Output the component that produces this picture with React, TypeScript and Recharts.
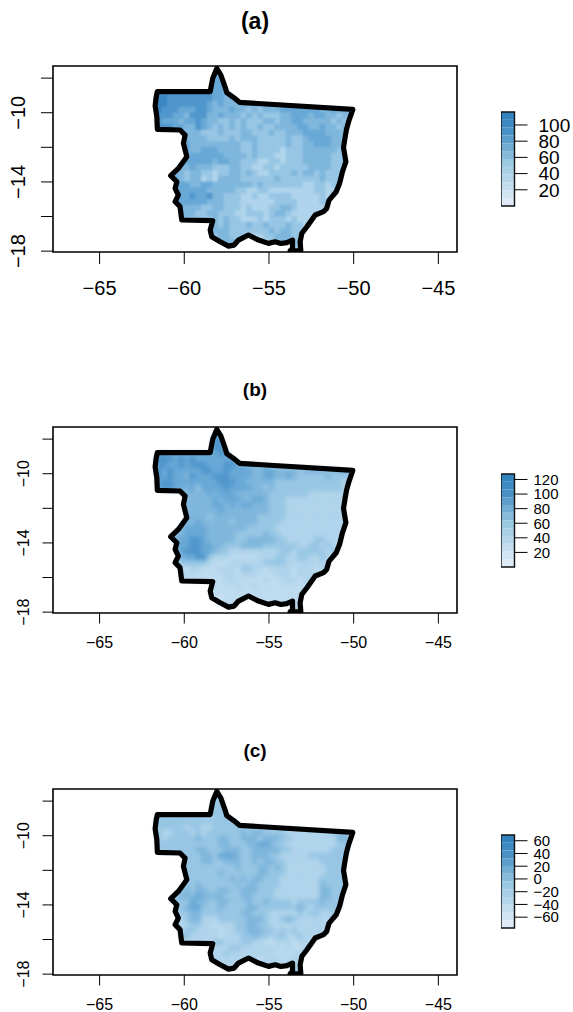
import React from "react";
import { ScatterChart, Scatter, XAxis, YAxis, ReferenceArea } from "recharts";

const FONT = "'Liberation Sans', Arial, sans-serif";
const LON_TICKS = [-65, -60, -55, -50, -45];
const LAT_TICKS = [-8, -10, -12, -14, -16, -18];
const LAT_LABELLED = [-10, -14, -18];

const BORDER_LON = [-58.08,-57.84,-57.63,-57.49,-57.10,-56.74,-50.05,-50.30,-50.42,-50.50,-50.60,-50.46,-50.66,-50.83,-51.03,-51.45,-51.60,-51.78,-52.27,-52.76,-53.06,-53.16,-53.12,-53.75,-53.61,-53.61,-53.95,-54.30,-54.63,-55.03,-55.62,-56.21,-56.80,-57.06,-57.39,-57.88,-58.38,-58.47,-58.32,-60.15,-60.25,-60.54,-60.35,-60.54,-60.44,-60.80,-60.35,-59.85,-60.05,-59.95,-60.25,-61.59,-61.62,-61.72,-61.66,-61.59,-58.47,-58.32,-58.08];
const BORDER_LAT = [-7.44,-7.82,-8.40,-8.84,-9.11,-9.40,-9.81,-10.52,-10.95,-11.39,-12.00,-12.83,-13.41,-14.08,-14.57,-15.05,-15.55,-15.72,-15.91,-16.59,-16.97,-17.46,-17.98,-17.98,-17.84,-17.36,-17.51,-17.56,-17.46,-17.55,-17.36,-17.07,-17.36,-17.65,-17.71,-17.46,-17.17,-16.78,-16.24,-16.20,-15.43,-15.14,-14.76,-14.37,-13.99,-13.64,-13.22,-12.54,-11.77,-11.29,-11.00,-10.96,-10.23,-9.60,-9.10,-8.78,-8.78,-8.01,-7.44];

// Grid of colour classes (1 light .. 9 dark), 1/3 degree cells; each row begins at ROW_STARTS[r].
const ROW_STARTS = [11,10,10,10,0,0,0,0,0,0,0,5,5,5,5,5,4,3,3,3,3,3,3,3,4,4,4,10,10,10,12,25];

const ROWS_A = [
"7","677","677","6776",
"888888888887766",
"9998888888877667",
"899888888876766666667",
"898887778876667665656667777777667766",
"888877688866766656565556677767766565",
"887776778766556565556656677666665655",
"888877668765656565565566667766766565",
"666655565556655565566677776665",
"666665555656665555565567777665",
"776666666665565555565566777665",
"776677766665565555455566666655",
"767777776666565554455566666555",
"7777777677665554455455566666555",
"76667666555665544554555556666555",
"7665665545566565445555656656555",
"7765664546666555555655555556555",
"6877667766666665655555554455455",
"7777777666665544554444444455445",
"667787786655544544555544444544",
"66777776665554444445555444455",
"666665566555454445566544444",
"566655665554455545665444444",
"56655556565544454555454444",
"5656555655655565544",
"566655555556566555",
"556655554455666555",
"66655544455655",
"55",
];

const ROWS_B = [
"8","788","788","7887",
"888777777777888",
"8888787877777777",
"888778788877788776666",
"787877777887787777667766665666656665",
"887877687778887777667766765555565555",
"878877777777888776666655555555555544",
"888877675777787777665655555555555544",
"566667677766666655555554444444",
"566666767776677655544444444444",
"566666776767766655544444444444",
"666666676666666655544444444444",
"666665666666665555544444444444",
"6666766666566665555444444444444",
"66677776666666555554444444444444",
"6667777666665555565544444444444",
"6677887666665566666554444455444",
"6677887766555666655555544554544",
"7778887765544444444455455555455",
"456778854443333344455445544544",
"34555554333444444555544444444",
"333443334443554434444344434",
"353433333443444333444344434",
"33333333344333334334443443",
"3333343343333333333",
"333333333333333333",
"332333333333333333",
"33333333333333",
"44",
];

const ROWS_C = [
"5","555","555","5555",
"555555555445555",
"5555555555555555",
"555555455445555555555",
"554455545455555565665555444444445554",
"554555556555665566656665544444444665",
"555555555555665556677655444444444555",
"555555556655566655666665544444445555",
"555566577765566655444445555555",
"555566556665565665544444455555",
"555555555565556656544444445555",
"555555565555556655544444445555",
"555555555656566555444444455555",
"5555655555565665555444444465555",
"55565665566556665554444444466555",
"5566676666555665555444444446655",
"5555766556655565565555455556555",
"4556775556555566555555565455555",
"4455665555555665554444454554455",
"444566444555556665445654444444",
"44445544344455665544444444444",
"445544443445566655454544444",
"565444443444556554554454444",
"44444435544455443344434444",
"4444554444444343344",
"444544444444343444",
"344444444344434444",
"44444444444444",
"55",
];

const CLASS_COLORS = ["#DEEBF7","#CEE3F3","#BEDBEF","#B0D4EB","#97C6E4","#7FB6DC","#68A8D6","#4F96CC","#3B87C3"];
const BIN_COLORS = ["#DEEBF7","#D0E4F3","#C3DDEE","#B5D6EA","#A8CFE5","#9ACAE1","#86BADA","#72ACD3","#5E9ECC","#4A91C5","#3D89C1","#3182BD"];

const LEGEND_A = { domain: [0, 116], ticks: [20, 40, 60, 80, 100] };
const LEGEND_B = { domain: [0, 127.5], ticks: [20, 40, 60, 80, 100, 120] };
const LEGEND_C = { domain: [-77, 69], ticks: [-60, -40, -20, 0, 20, 40, 60] };

const border = BORDER_LON.map((lon, i) => ({ lon, lat: BORDER_LAT[i] }));
const minus = (v: number) => String(v).replace("-", "\u2212");

function cells(rows: string[]) {
  const out: { lon: number; lat: number; level: number }[] = [];
  rows.forEach((row, r) => {
    for (let i = 0; i < row.length; i++) {
      out.push({
        lon: -61.83 + (ROW_STARTS[r] + i) / 3,
        lat: -7.5 - r / 3,
        level: Number(row[i]),
      });
    }
  });
  return out;
}

function Panel({ id, rows, title, top, fs, tickLen, xLabelMargin, yLabelX, baseColor, blur }: any) {
  const data = cells(rows);
  const fillLine = (p: any) => {
    const pts = (p.points || []).map((q: any) => `${q.x},${q.y}`).join(" ");
    return (
      <g>
        <clipPath id={id}><polygon points={pts} /></clipPath>
        <polygon points={pts} fill={baseColor} stroke="none" />
      </g>
    );
  };
  const strokeLine = (p: any) => {
    const pts = (p.points || []).map((q: any) => `${q.x},${q.y}`).join(" ");
    return <polygon points={pts} fill="none" stroke="#000" strokeWidth={5.2} strokeLinejoin="round" />;
  };
  const cell = (p: any) => (
    <rect
      x={p.cx - 3.1}
      y={p.cy - 3.1}
      width={6.2}
      height={6.2}
      fill={CLASS_COLORS[p.payload.level - 1]}
      clipPath={`url(#${id})`}
    />
  );
  const yTick = (p: any) => {
    const v = p.payload.value;
    if (!LAT_LABELLED.includes(v)) return <g />;
    return (
      <text
        x={yLabelX}
        y={p.y}
        transform={`rotate(-90 ${yLabelX} ${p.y})`}
        textAnchor="middle"
        dominantBaseline="central"
        fontSize={fs}
        fontFamily={FONT}
        fill="#000"
      >
        {minus(v)}
      </text>
    );
  };
  return (
    <div style={{ position: "absolute", left: 0, top, width: 573, height: 320 }}>
      <div style={{ position: "absolute", left: 155, width: 200, top: title.y, textAlign: "center", fontFamily: FONT, fontWeight: 700, fontSize: title.size, lineHeight: "24px", color: "#000" }}>
        {title.text}
      </div>
      <ScatterChart width={573} height={320} margin={{ top: 66, right: 116, bottom: 0, left: 0 }}>
        <XAxis
          type="number"
          dataKey="lon"
          domain={[-67.75, -43.9]}
          ticks={LON_TICKS}
          interval={0}
          allowDataOverflow
          height={68}
          axisLine={false}
          tickSize={tickLen}
          tickMargin={xLabelMargin}
          tickLine={{ stroke: "#000", strokeWidth: 1 }}
          tickFormatter={minus}
          tick={{ fontSize: fs, fontFamily: FONT, fill: "#000" }}
        />
        <YAxis
          type="number"
          dataKey="lat"
          domain={[-18.05, -7.3]}
          ticks={LAT_TICKS}
          interval={0}
          allowDataOverflow
          width={53}
          axisLine={false}
          tickSize={tickLen}
          tickLine={{ stroke: "#000", strokeWidth: 1 }}
          tick={yTick}
        />
        <Scatter data={border} line={fillLine} lineType="joint" shape={() => <g />} isAnimationActive={false} />
        <Scatter className={blur} data={data} shape={cell} isAnimationActive={false} />
        <Scatter data={border} line={strokeLine} lineType="joint" shape={() => <g />} isAnimationActive={false} />
        <ReferenceArea x1={-67.75} x2={-43.9} y1={-18.05} y2={-7.3} fill="none" stroke="#000" strokeWidth={1.6} />
      </ScatterChart>
    </div>
  );
}

function ColorBar({ legend, top, height, fs, labelGap }: any) {
  const [lo, hi] = legend.domain;
  const step = (hi - lo) / BIN_COLORS.length;
  const pad = 14;
  const corners = [{ x: 0, y: lo }, { x: 1, y: hi }];
  return (
    <div style={{ position: "absolute", left: 501, top: top - pad }}>
      <ScatterChart width={72} height={height + 2 * pad} margin={{ top: pad, right: 0, bottom: pad, left: 0 }}>
        <XAxis type="number" dataKey="x" domain={[0, 1]} hide />
        <YAxis
          orientation="right"
          type="number"
          dataKey="y"
          domain={legend.domain}
          ticks={legend.ticks}
          interval={0}
          width={58.5}
          axisLine={false}
          tickSize={13}
          tickMargin={labelGap}
          tickLine={{ stroke: "#000", strokeWidth: 1 }}
          tickFormatter={minus}
          tick={{ fontSize: fs, fontFamily: FONT, fill: "#000", textAnchor: "start" }}
        />
        <Scatter data={corners} shape={() => <g />} isAnimationActive={false} />
        {BIN_COLORS.map((c, i) => (
          <ReferenceArea key={c} x1={0} x2={1} y1={lo + i * step} y2={lo + (i + 1) * step} fill={c} fillOpacity={1} stroke="none" />
        ))}
        <ReferenceArea x1={0} x2={1} y1={lo} y2={hi} fill="none" stroke="#111" strokeWidth={1.4} />
      </ScatterChart>
    </div>
  );
}

export default function App() {
  return (
    <div style={{ position: "absolute", left: 0, top: 0, width: 573, height: 1012, background: "#fff", overflow: "hidden" }}>
      <style>{`.heat-a { filter: blur(1px); } .heat-b { filter: blur(2px); }`}</style>
      <Panel id="state-a" blur="heat-a" rows={ROWS_A} top={0} fs={20} tickLen={12} xLabelMargin={17} yLabelX={18} baseColor="#7FB6DC" title={{ text: "(a)", size: 23, y: 9 }} />
      <Panel id="state-b" blur="heat-b" rows={ROWS_B} top={361} fs={16} tickLen={10.5} xLabelMargin={13} yLabelX={24} baseColor="#B0D4EB" title={{ text: "(b)", size: 19, y: 17 }} />
      <Panel id="state-c" blur="heat-b" rows={ROWS_C} top={723} fs={16} tickLen={10.5} xLabelMargin={13} yLabelX={24} baseColor="#B0D4EB" title={{ text: "(c)", size: 19, y: 16 }} />
      <ColorBar legend={LEGEND_A} top={112} height={94} fs={19} labelGap={11} />
      <ColorBar legend={LEGEND_B} top={474} height={93} fs={15} labelGap={6} />
      <ColorBar legend={LEGEND_C} top={835} height={93} fs={15} labelGap={6} />
    </div>
  );
}
